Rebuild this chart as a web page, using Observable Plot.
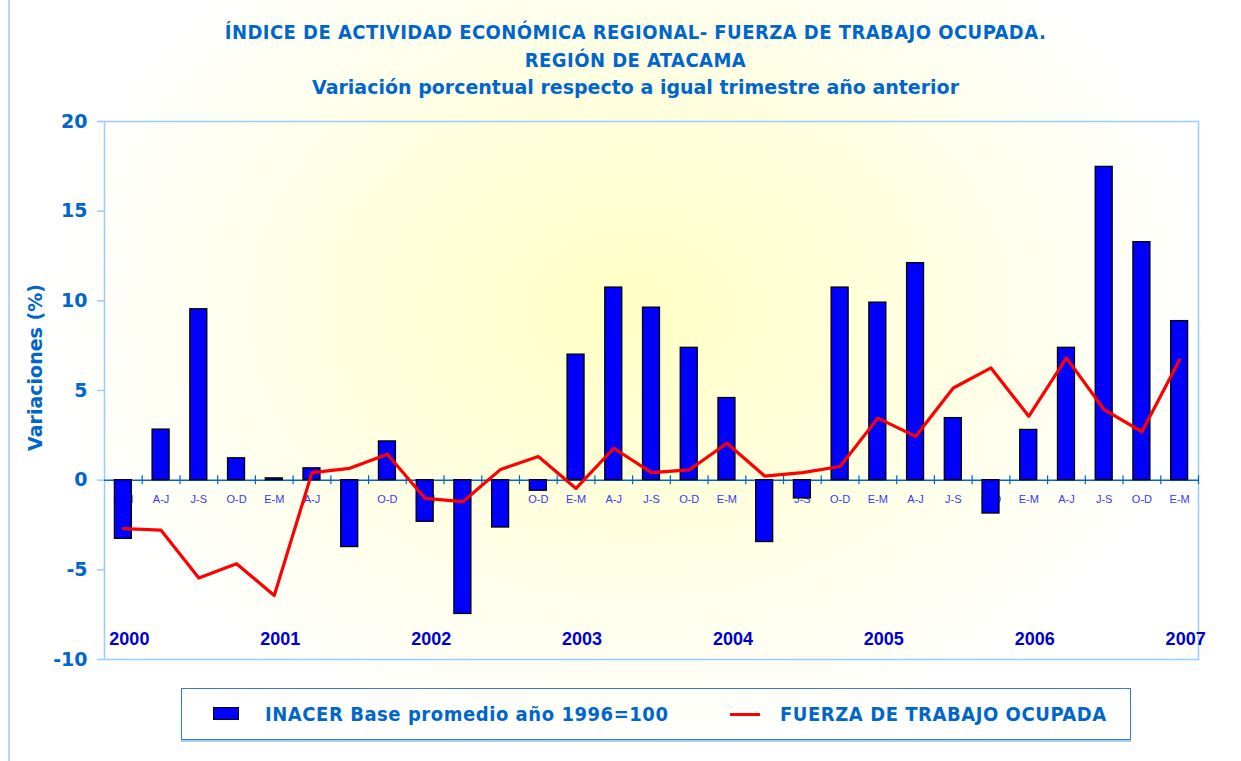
<!DOCTYPE html>
<html>
<head>
<meta charset="utf-8">
<script src="https://cdn.jsdelivr.net/npm/d3@7"></script>
<script src="https://cdn.jsdelivr.net/npm/@observablehq/plot@0.6"></script>
<style>
  html, body { margin: 0; padding: 0; background: #ffffff; }
  #wrap {
    position: relative; width: 1241px; height: 761px; overflow: hidden;
    background: radial-gradient(ellipse 580px 440px at 630px 310px, #FFFFC4 0%, #FFFFE0 50%, #FFFFFF 100%);
  }
  #edge { position: absolute; left: 8px; top: 0; width: 0; height: 761px; border-left: 2px solid #B8D8FF; }
  #title {
    height: 102px; box-sizing: border-box; padding-top: 19px; padding-left: 30px;
    text-align: center; color: #0066CC; font-weight: bold; line-height: 27.5px;
  }
  #title div { white-space: nowrap; }
  .t1 { font-family: "DejaVu Sans Condensed", "Liberation Sans", Arial, sans-serif; font-size: 20px; letter-spacing: 0.45px; }
  .t3 { font-family: "DejaVu Sans", Verdana, sans-serif; font-size: 19px; }
  #legend {
    position: absolute; left: 181px; top: 688px; width: 950px; height: 52px; box-sizing: border-box;
    border: 1px solid #2F7BD6; box-shadow: 0 2px 0 #A9CCF5;
    font-family: "DejaVu Sans Condensed", "Liberation Sans", Arial, sans-serif; font-weight: bold; font-size: 20px;
    letter-spacing: 0.55px; color: #0066CC;
  }
  .sw { position: absolute; }
  .lt { position: absolute; top: 12px; white-space: nowrap; line-height: 26px; }
</style>
</head>
<body>
<div id="wrap">
  <div id="edge"></div>
  <div id="title">
    <div class="t1">ÍNDICE DE ACTIVIDAD ECONÓMICA REGIONAL- FUERZA DE TRABAJO OCUPADA.</div>
    <div class="t1">REGIÓN DE ATACAMA</div>
    <div class="t3">Variación porcentual respecto a igual trimestre año anterior</div>
  </div>
  <div id="chart"></div>
  <div id="legend">
    <div class="sw" style="left:31px;top:18px;width:26px;height:13px;background:#0000FF;border:1.5px solid #000;box-sizing:border-box;"></div>
    <div class="lt" style="left:83px;">INACER Base promedio año 1996=100</div>
    <div class="sw" style="left:548px;top:24px;width:30px;height:3px;background:#FF0000;"></div>
    <div class="lt" style="left:598px;">FUERZA DE TRABAJO OCUPADA</div>
  </div>
</div>
<script>
const years = [2000, 2001, 2002, 2003, 2004, 2005, 2006, 2007];
const quarters = ["E-M", "A-J", "J-S", "O-D"];
// 29 quarters: E-M 2000 ... E-M 2007
const periods = [];
years.forEach(y => quarters.forEach(q => { if (y < 2007 || q === "E-M") periods.push({q, y}); }));

const inacer = [
  -3.27, 2.82, 9.53, 1.22,
  0.10, 0.66, -3.73, 2.16,
  -2.32, -7.46, -2.64, -0.59,
  7.00, 10.74, 9.62, 7.38,
  4.58, -3.45, -1.02, 10.74,
  9.90, 12.10, 3.46, -1.86,
  2.80, 7.38, 17.47, 13.27,
  8.87
];
const fuerza = [
  -2.70, -2.79, -5.46, -4.66,
  -6.43, 0.42, 0.66, 1.45,
  -1.02, -1.20, 0.60, 1.32,
  -0.46, 1.78, 0.42, 0.57,
  2.06, 0.23, 0.42, 0.76,
  3.46, 2.44, 5.14, 6.26,
  3.56, 6.82, 3.93, 2.70,
  6.71
];
const yTicks = [-10, -5, 0, 5, 10, 15, 20];

const data = periods.map((p, i) => ({key: p.q + " " + p.y, q: p.q, inacer: inacer[i], fuerza: fuerza[i]}));
const keys = data.map(d => d.key);

const W = 1241, H = 578, mL = 104, mR = 43, mT = 19, mB = 21;
const step = (W - mL - mR) / keys.length;

const plot = Plot.plot({
  width: W, height: H,
  marginLeft: mL, marginRight: mR, marginTop: mT, marginBottom: mB,
  style: {background: "transparent", overflow: "visible"},
  x: {domain: keys, paddingInner: 0.55, paddingOuter: 0.275, round: false, axis: null},
  y: {domain: [-10, 20], ticks: yTicks},
  marks: [
    Plot.axisY({ticks: yTicks, tickFormat: d => String(d), tickSize: 7, tickPadding: 10, stroke: "#99CCFF", strokeWidth: 1.5,
      fill: "#0066CC", fontSize: 19, fontWeight: "bold", fontFamily: "DejaVu Sans, Verdana, sans-serif", label: null}),
    Plot.text(["Variaciones (%)"], {frameAnchor: "left", textAnchor: "middle", text: d => d, rotate: -90, dx: -69, dy: -23,
      fill: "#0066CC", fontSize: 19, fontWeight: "bold", fontFamily: "DejaVu Sans, Verdana, sans-serif"}),
    Plot.frame({stroke: "#99CCFF", strokeWidth: 1.5}),
    Plot.text(data, {x: "key", y: 0, text: "q", dy: 19, fill: "#3838F0", fontSize: 11, fontFamily: "Liberation Sans, Arial, sans-serif"}),
    Plot.ruleY([0], {stroke: "#0066CC", strokeWidth: 1.5}),
    Plot.ruleX(keys, {x: d => d, y1: -0.25, y2: 0.25, dx: step / 2, stroke: "#0066CC", strokeWidth: 1.2}),
    Plot.barY(data, {x: "key", y: "inacer", fill: "#0000FF", stroke: "#000000", strokeWidth: 1.3}),
    Plot.line(data, {x: "key", y: "fuerza", stroke: "#FF0000", strokeWidth: 3.2, curve: "linear"}),
    Plot.text(years, {x: d => "E-M " + d, y: -8.85, text: d => String(d), dx: 6,
      fill: "#0000CC", fontSize: 18, fontWeight: "bold", fontFamily: "Liberation Sans Narrow, Liberation Sans, Arial, sans-serif"})
  ]
});
document.getElementById("chart").appendChild(plot);
</script>
</body>
</html>
